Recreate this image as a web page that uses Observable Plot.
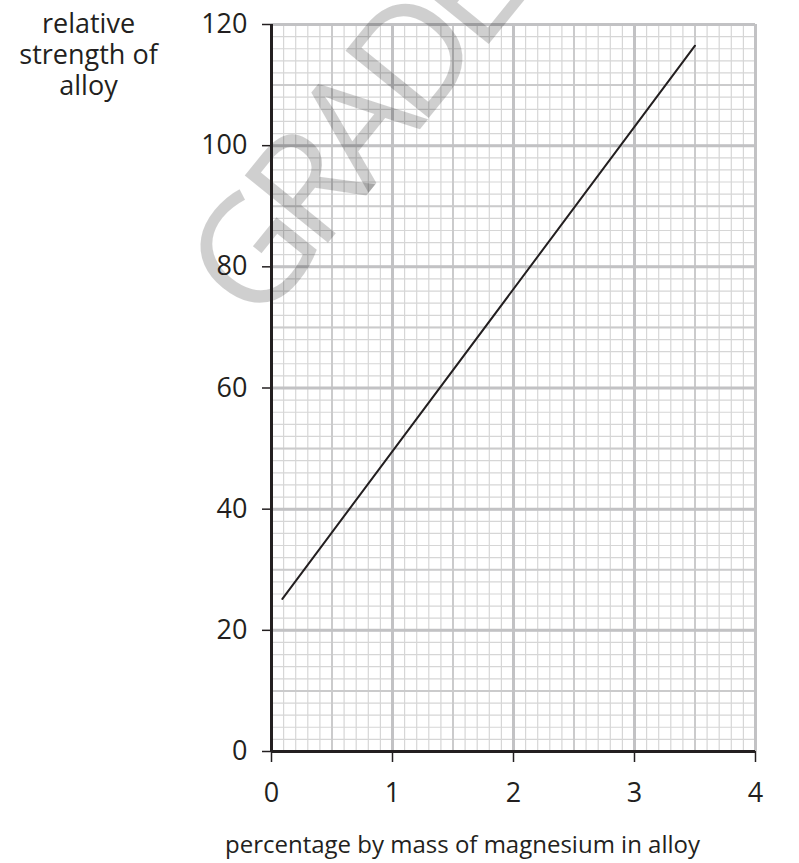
<!DOCTYPE html>
<html>
<head>
<meta charset="utf-8">
<script src="https://cdn.jsdelivr.net/npm/d3@7"></script>
<script src="https://cdn.jsdelivr.net/npm/@observablehq/plot@0.6"></script>
<style>
  html, body { margin: 0; padding: 0; background: #fff; }
  #chart svg { display: block; }
  .wm text { letter-spacing: -0.09em; }
</style>
</head>
<body>
<div id="chart"></div>
<script>
// Data
const xTicks = [0, 1, 2, 3, 4];
const yTicks = [0, 20, 40, 60, 80, 100, 120];
const lineX = [0.09, 3.5];
const lineY = [25.2, 116.5];
const xTitle = "percentage by mass of magnesium in alloy";
const yTitle = "relative\nstrength of\nalloy";
const watermark = "GRADE";

// Graph-paper grid positions
const minorX = d3.range(0, 41).map(i => i / 10);
const mediumX = d3.range(0, 9).map(i => i / 2);
const minorY = d3.range(0, 61).map(i => i * 2);
const mediumY = d3.range(0, 13).map(i => i * 10);

const points = lineX.map((x, i) => ({x, y: lineY[i]}));
const ink = "#231f20";
const font = "'Open Sans', 'Noto Sans', sans-serif";

const chart = Plot.plot({
  width: 799,
  height: 863,
  marginLeft: 271,
  marginRight: 44,
  marginTop: 24,
  marginBottom: 112,
  x: {domain: [0, 4]},
  y: {domain: [0, 120]},
  style: {fontFamily: font, color: ink, background: "#fff", overflow: "hidden"},
  marks: [
    Plot.ruleX(minorX, {stroke: "#d6d6d6", strokeWidth: 1.2}),
    Plot.ruleY(minorY, {stroke: "#d6d6d6", strokeWidth: 1.2}),
    Plot.ruleX(mediumX, {stroke: "#cbcbcc", strokeWidth: 2}),
    Plot.ruleY(mediumY, {stroke: "#cbcbcc", strokeWidth: 2}),
    Plot.ruleX(xTicks, {stroke: "#c2c2c4", strokeWidth: 3}),
    Plot.ruleY(yTicks, {stroke: "#c2c2c4", strokeWidth: 3}),
    Plot.text([watermark], {
      className: "wm",
      frameAnchor: "top-left", dx: -13, dy: 304,
      text: d => d, rotate: -51, textAnchor: "start", lineAnchor: "bottom",
      fontSize: 150, fill: "#000", fillOpacity: 0.19
    }),
    Plot.line(points, {x: "x", y: "y", stroke: ink, strokeWidth: 2}),
    Plot.ruleX([0], {stroke: ink, strokeWidth: 3}),
    Plot.ruleY([0], {stroke: ink, strokeWidth: 3}),
    Plot.axisX({ticks: xTicks, tickFormat: d3.format("d"), tickSize: 11, tickPadding: 20, fontSize: 27, label: null, stroke: ink, strokeWidth: 1.5}),
    Plot.axisY({ticks: yTicks, tickFormat: d3.format("d"), tickSize: 9, tickPadding: 15, fontSize: 27, label: null, stroke: ink, strokeWidth: 1.5}),
    Plot.text([yTitle], {
      frameAnchor: "top-left", dx: -183, dy: -14,
      text: d => d, textAnchor: "middle", lineAnchor: "top",
      lineHeight: 1.15, fontSize: 27, fill: ink
    }),
    Plot.text([xTitle], {
      frameAnchor: "bottom", dx: -51, dy: 101,
      text: d => d, textAnchor: "middle", lineAnchor: "bottom",
      fontSize: 24, fill: ink
    })
  ]
});
document.getElementById("chart").append(chart);
</script>
</body>
</html>
